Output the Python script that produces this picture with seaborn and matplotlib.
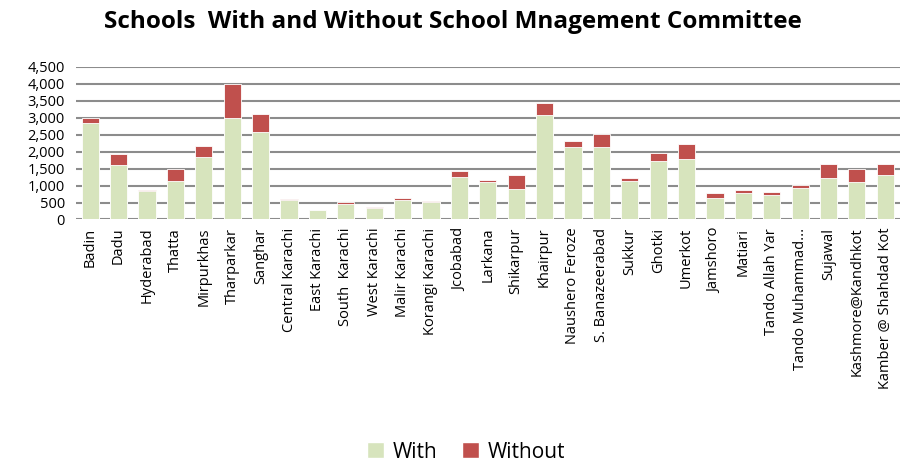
import pandas as pd
import seaborn as sns
import matplotlib.pyplot as plt
from matplotlib.patches import Patch
from matplotlib.ticker import FuncFormatter

districts = ['Badin', 'Dadu', 'Hyderabad', 'Thatta', 'Mirpurkhas', 'Tharparkar',
             'Sanghar', 'Central Karachi', 'East Karachi', 'South  Karachi',
             'West Karachi', 'Malir Karachi', 'Korangi Karachi', 'Jcobabad',
             'Larkana', 'Shikarpur', 'Khairpur', 'Naushero Feroze',
             'S. Banazeerabad', 'Sukkur', 'Ghotki', 'Umerkot', 'Jamshoro',
             'Matiari', 'Tando Allah Yar', 'Tando Muhammad...', 'Sujawal',
             'Kashmore@Kandhkot', 'Kamber @ Shahdad Kot']
with_smc = [2835, 1620, 840, 1130, 1840, 2980, 2580, 580, 275, 460,
            350, 565, 515, 1260, 1120, 895, 3080, 2135, 2145, 1140,
            1720, 1770, 640, 770, 730, 915, 1210, 1100, 1320]
without_smc = [145, 310, 25, 365, 325, 1015, 530, 30, 5, 45,
               25, 55, 25, 175, 40, 405, 365, 195, 375, 80,
               235, 455, 140, 95, 80, 95, 425, 395, 315]

df = pd.DataFrame({'district': districts, 'With': with_smc, 'Without': without_smc})
df['Total'] = df['With'] + df['Without']

green = '#D7E4BD'
red = '#C0504D'

sns.set_style('white')
plt.rcParams['font.family'] = ['Open Sans', 'DejaVu Sans']
plt.rcParams['text.color'] = 'black'
plt.rcParams['xtick.color'] = 'black'
plt.rcParams['ytick.color'] = 'black'

fig = plt.figure(figsize=(9.05, 4.65), dpi=100)
ax = fig.add_axes([0.084, 0.528, 0.91, 0.328])

ax.yaxis.grid(True, color='#8C8C8C', linewidth=1.5)
ax.set_axisbelow(True)

sns.barplot(data=df, x='district', y='Total', color=red, width=0.6,
            edgecolor='white', linewidth=0.6, saturation=1, ax=ax)
sns.barplot(data=df, x='district', y='With', color=green, width=0.6,
            edgecolor='white', linewidth=0.6, saturation=1, ax=ax)

ax.set_ylim(0, 4500)
ax.set_yticks(range(0, 4501, 500))
ax.yaxis.set_major_formatter(FuncFormatter(lambda v, p: f'{int(v):,}'))
ax.set_xlim(-0.5, len(districts) - 0.5)
ax.set_xlabel('')
ax.set_ylabel('')
ax.tick_params(axis='x', rotation=90, labelsize=10.5, length=0, pad=6)
ax.tick_params(axis='y', labelsize=10.5, length=0, pad=8)
sns.despine(ax=ax, left=True, top=True, right=True, bottom=True)

fig.suptitle('Schools  With and Without School Mnagement Committee',
             fontsize=17.5, fontweight='bold', y=0.978)

handles = [Patch(facecolor=green, label='With'), Patch(facecolor=red, label='Without')]
fig.legend(handles=handles, loc='lower center', bbox_to_anchor=(0.515, -0.035),
           ncol=2, frameon=False, fontsize=15, handlelength=0.8, handleheight=0.8,
           columnspacing=1.2, handletextpad=0.4)

plt.savefig('out.png', dpi=100)
